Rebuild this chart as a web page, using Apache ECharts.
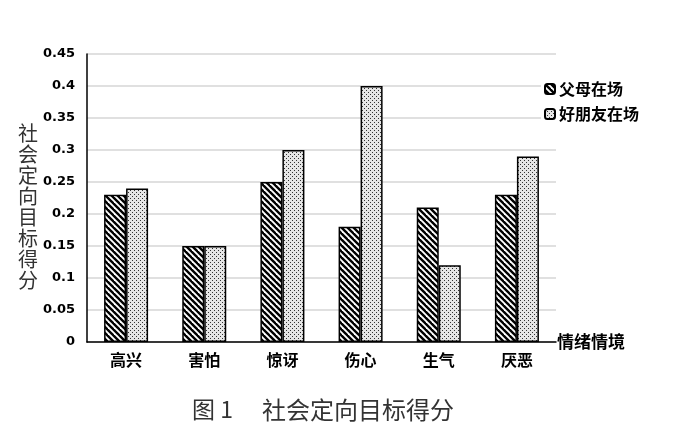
<!DOCTYPE html>
<html>
<head>
<meta charset="utf-8">
<script src="https://cdn.jsdelivr.net/npm/echarts@6/dist/echarts.min.js"></script>
<style>html,body{margin:0;padding:0;background:#fff;}#c{width:700px;height:446px;}</style>
</head>
<body>
<div id="c"></div>
<script>
const categories = ['高兴', '害怕', '惊讶', '伤心', '生气', '厌恶'];
const parentsValues = [0.23, 0.15, 0.25, 0.18, 0.21, 0.23];
const friendsValues = [0.24, 0.15, 0.30, 0.40, 0.12, 0.29];
const seriesNames = ['父母在场', '好朋友在场'];
const yTicks = { min: 0, max: 0.45, interval: 0.05 };

function stripePattern() {
  const p = 6;
  const c = document.createElement('canvas');
  c.width = p; c.height = p;
  const g = c.getContext('2d');
  g.fillStyle = '#fff'; g.fillRect(0, 0, p, p);
  g.strokeStyle = '#000'; g.lineWidth = 2.4;
  for (const o of [-p, 0, p]) {
    g.beginPath(); g.moveTo(o - 1, -1); g.lineTo(o + p + 1, p + 1); g.stroke();
  }
  return c;
}
function dotPattern() {
  const c = document.createElement('canvas');
  c.width = 4; c.height = 4;
  const g = c.getContext('2d');
  g.fillStyle = '#e6e6e6'; g.fillRect(0, 0, 4, 4);
  g.fillStyle = '#333';
  g.fillRect(0, 0, 1, 1); g.fillRect(2, 2, 1, 1);
  return c;
}

const chart = echarts.init(document.getElementById('c'), null, { renderer: 'canvas' });
const cjk = '"Noto Sans CJK SC", sans-serif';
chart.setOption({
  backgroundColor: '#fff',
  animation: false,
  grid: { left: 87, right: 144, top: 54, bottom: 104 },
  legend: {
    orient: 'vertical', left: 541, top: 77,
    itemWidth: 10, itemHeight: 10, itemGap: 9,
    backgroundColor: '#fff', padding: [4, 4, 4, 3],
    textStyle: { fontFamily: cjk, fontSize: 16, fontWeight: 'bold', color: '#000', padding: [0, 0, 0, -1] },
    data: seriesNames
  },
  graphic: [
    {
      type: 'text', left: 18, top: 123,
      style: {
        text: '社\n会\n定\n向\n目\n标\n得\n分',
        font: '20px "Noto Sans CJK SC"', fill: '#333', lineHeight: 21
      }
    },
    {
      type: 'text', left: 192, top: 398,
      style: { text: '图 1', font: '23px "Noto Sans CJK SC"', fill: '#333' }
    },
    {
      type: 'text', left: 262, top: 398,
      style: { text: '社会定向目标得分', font: '24px "Noto Sans CJK SC"', fill: '#333' }
    }
  ],
  xAxis: {
    type: 'category', data: categories,
    name: '情绪情境', nameLocation: 'end', nameGap: 1,
    nameTextStyle: { fontFamily: cjk, fontSize: 17, fontWeight: 'bold', color: '#000', verticalAlign: 'middle', padding: [0, 0, 4, 0] },
    axisLine: { lineStyle: { color: '#000', width: 1.5 } },
    axisTick: { show: false },
    axisLabel: { fontFamily: cjk, fontSize: 16, fontWeight: 'bold', color: '#000', margin: 10 }
  },
  yAxis: {
    type: 'value', min: yTicks.min, max: yTicks.max, interval: yTicks.interval,
    axisLine: { show: true, lineStyle: { color: '#000', width: 1.5 } },
    axisTick: { show: false },
    splitLine: { lineStyle: { color: '#d6d6d6', width: 1.5 } },
    axisLabel: { fontFamily: '"DejaVu Sans", sans-serif', fontSize: 13, fontWeight: 'bold', color: '#000', margin: 12 }
  },
  series: [
    {
      name: seriesNames[0], type: 'bar', data: parentsValues,
      barWidth: 22, barGap: '0%',
      itemStyle: { color: { image: stripePattern(), repeat: 'repeat' }, borderColor: '#000', borderWidth: 1.5 }
    },
    {
      name: seriesNames[1], type: 'bar', data: friendsValues,
      barWidth: 22,
      itemStyle: { color: { image: dotPattern(), repeat: 'repeat' }, borderColor: '#000', borderWidth: 1.5 }
    }
  ]
});
</script>
</body>
</html>
